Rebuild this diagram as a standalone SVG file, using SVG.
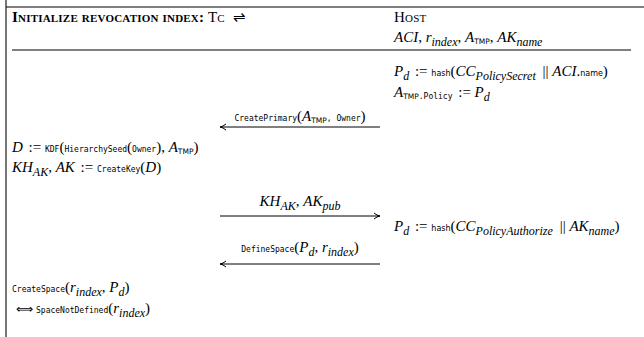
<svg xmlns="http://www.w3.org/2000/svg" width="644" height="337" viewBox="0 0 644 337">
<style>
text{font-family:"Liberation Serif",serif;font-size:15px;fill:#000}
.m{font-style:italic}
.r{font-style:normal}
.t{font-family:"DejaVu Sans Mono",monospace;font-size:8px;font-style:normal}
.sf{font-family:"DejaVu Sans",sans-serif;font-size:8px;font-style:normal}
.sb{font-size:12px;font-style:italic}
.tmp{font-family:"DejaVu Sans",sans-serif;font-size:7.5px;font-style:normal}
.hd{font-size:15px;font-variant:small-caps;letter-spacing:0.2px}
.b{font-weight:bold}
.frame{stroke:#000;stroke-width:1.2;fill:none}
.conn line{stroke:#000;stroke-width:1}
</style>
<defs>
<marker id="ah" viewBox="0 0 8 8" refX="7" refY="4" markerWidth="8" markerHeight="8" markerUnits="userSpaceOnUse" orient="auto">
<path d="M1,1 Q4,3.5 7,4 Q4,4.5 1,7" fill="none" stroke="#000" stroke-width="1"/>
</marker>
</defs>
<g id="frame">
<line x1="6" y1="0" x2="6" y2="337" stroke="#777" stroke-width="2"/>
<line x1="6" y1="7" x2="644" y2="7" class="frame"/>
<line x1="12" y1="50" x2="631" y2="50" class="frame"/>
</g>
<g id="header">
<text x="12" y="22" class="hd"><tspan class="b">Initialize revocation index:</tspan> Tc <tspan dx="4">⇌</tspan></text>
<text x="394" y="22" class="hd">Host</text>
<text x="394" y="42" class="m">ACI<tspan class="r">, </tspan>r<tspan dy="3.5" class="sb">index</tspan><tspan dy="-3.5" class="r">, </tspan>A<tspan dy="2" class="tmp">TMP</tspan><tspan dy="-2" class="r">, </tspan>AK<tspan dy="3.5" class="sb">name</tspan></text>
</g>
<g id="host-policy">
<text x="394" y="76" class="m">P<tspan dy="3.5" class="sb">d</tspan><tspan dy="-3.5" dx="2" class="r"> := </tspan><tspan class="sf">hash</tspan><tspan class="r">(</tspan>CC<tspan dy="3.5" class="sb">PolicySecret</tspan><tspan dy="-3.5" dx="3" class="r"> || </tspan>ACI<tspan class="r">.</tspan><tspan class="sf">name</tspan><tspan class="r">)</tspan></text>
<text x="394" y="97" class="m">A<tspan dy="2" class="tmp">TMP</tspan><tspan class="t">.Policy</tspan><tspan dy="-2" dx="2" class="r"> := </tspan>P<tspan dy="3.5" class="sb">d</tspan></text>
</g>
<g id="msg-createprimary">
<text x="300" y="121" text-anchor="middle"><tspan class="t">CreatePrimary</tspan><tspan class="r">(</tspan><tspan class="m">A</tspan><tspan dy="2" class="tmp">TMP</tspan><tspan dy="-2" class="t">, Owner</tspan><tspan class="r">)</tspan></text>
</g>
<g id="tc-derive">
<text x="12" y="152" class="m">D<tspan dx="2" class="r"> := </tspan><tspan class="t">KDF</tspan><tspan class="r">(</tspan><tspan class="t">HierarchySeed</tspan><tspan class="r">(</tspan><tspan class="t">Owner</tspan><tspan class="r">), </tspan>A<tspan dy="2" class="tmp">TMP</tspan><tspan dy="-2" class="r">)</tspan></text>
<text x="12" y="172" class="m">KH<tspan dy="3.5" class="sb">AK</tspan><tspan dy="-3.5" class="r">, </tspan>AK<tspan dx="2" class="r"> := </tspan><tspan class="t">CreateKey</tspan><tspan class="r">(</tspan>D<tspan class="r">)</tspan></text>
</g>
<g id="msg-key">
<text x="300" y="206" text-anchor="middle" class="m">KH<tspan dy="3.5" class="sb">AK</tspan><tspan dy="-3.5" class="r">, </tspan>AK<tspan dy="3.5" class="sb">pub</tspan></text>
</g>
<g id="host-authorize">
<text x="394" y="231" class="m">P<tspan dy="3.5" class="sb">d</tspan><tspan dy="-3.5" dx="2" class="r"> := </tspan><tspan class="sf">hash</tspan><tspan class="r">(</tspan>CC<tspan dy="3.5" class="sb">PolicyAuthorize</tspan><tspan dy="-3.5" dx="3" class="r"> || </tspan>AK<tspan dy="3.5" class="sb">name</tspan><tspan dy="-3.5" class="r">)</tspan></text>
</g>
<g id="msg-definespace">
<text x="300" y="252" text-anchor="middle"><tspan class="t">DefineSpace</tspan><tspan class="r">(</tspan><tspan class="m">P</tspan><tspan dy="3.5" class="sb">d</tspan><tspan dy="-3.5" class="r">, </tspan><tspan class="m">r</tspan><tspan dy="3.5" class="sb">index</tspan><tspan dy="-3.5" class="r">)</tspan></text>
</g>
<g id="tc-createspace">
<text x="12" y="292"><tspan class="t">CreateSpace</tspan><tspan class="r">(</tspan><tspan class="m">r</tspan><tspan dy="3.5" class="sb">index</tspan><tspan dy="-3.5" class="r">, </tspan><tspan class="m">P</tspan><tspan dy="3.5" class="sb">d</tspan><tspan dy="-3.5" class="r">)</tspan></text>
<text x="16" y="313"><tspan class="r" font-size="12">⟺ </tspan><tspan class="t">SpaceNotDefined</tspan><tspan class="r">(</tspan><tspan class="m">r</tspan><tspan dy="3.5" class="sb">index</tspan><tspan dy="-3.5" class="r">)</tspan></text>
</g>
<g id="connectors" class="conn">
<line x1="380" y1="127" x2="220" y2="127" marker-end="url(#ah)"/>
<line x1="220" y1="216" x2="380" y2="216" marker-end="url(#ah)"/>
<line x1="380" y1="264" x2="220" y2="264" marker-end="url(#ah)"/>
</g>
</svg>
